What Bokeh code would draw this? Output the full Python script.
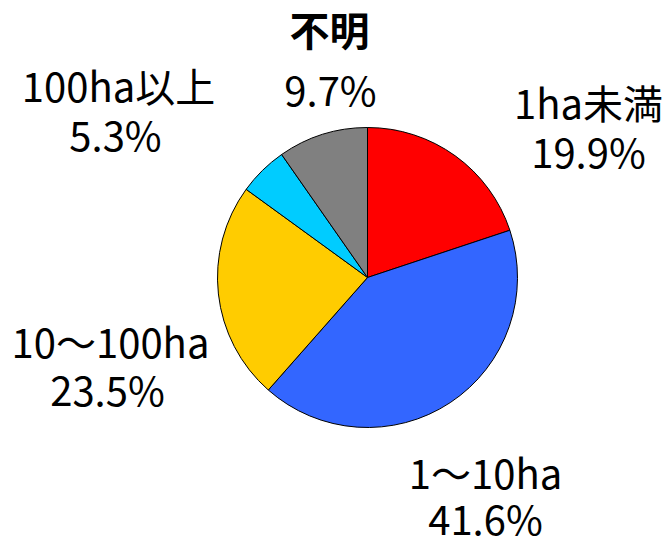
import math
from bokeh.plotting import figure
from bokeh.models import Range1d, ColumnDataSource
from bokeh.core.properties import value
from bokeh.embed import file_html
from bokeh.resources import INLINE

# data
categories = ["1ha未満", "1～10ha", "10～100ha", "100ha以上", "不明"]
shares = [19.9, 41.6, 23.5, 5.3, 9.7]
colors = ["#FF0000", "#3366FF", "#FFCC00", "#00CCFF", "#808080"]

# layout (image pixel coords, y measured from top)
W, H = 668, 548
cx, cy, R = 367, 277, 150
name_pos = [(588, 101), (485, 471), (110, 340), (118, 84), (329, 28)]
pct_pos = [(588, 150), (485, 517), (107, 388), (115, 133), (330, 88)]

p = figure(width=W, height=H, output_backend="svg", toolbar_location=None,
           x_range=Range1d(0, W), y_range=Range1d(548 - H, 548),
           min_border=0, outline_line_color=None)
p.axis.visible = False
p.grid.visible = False
p.background_fill_color = "white"
p.border_fill_color = "white"

total = sum(shares)
starts, ends = [], []
cum = 0.0
for s in shares:
    starts.append(math.pi / 2 - cum / total * 2 * math.pi)
    cum += s
    ends.append(math.pi / 2 - cum / total * 2 * math.pi)

src = ColumnDataSource(dict(start=starts, end=ends, color=colors))
p.wedge(x=cx, y=548 - cy, radius=R, start_angle="start", end_angle="end",
        direction="clock", fill_color="color", line_color="black", line_width=1,
        source=src)

font = value("Noto Sans CJK JP")
for i, (name, s) in enumerate(zip(categories, shares)):
    nx, ny = name_pos[i]
    px, py = pct_pos[i]
    p.text(x=[nx], y=[548 - ny], text=[name], text_font=font,
           text_font_size="40px", text_align="center", text_baseline="middle",
           text_color="black",
           text_font_style="bold" if name == "不明" else "normal")
    p.text(x=[px], y=[548 - py], text=[f"{s}%"], text_font=font,
           text_font_size="40px", text_align="center", text_baseline="middle",
           text_color="black")

open("out.html", "w").write(file_html(p, INLINE))
